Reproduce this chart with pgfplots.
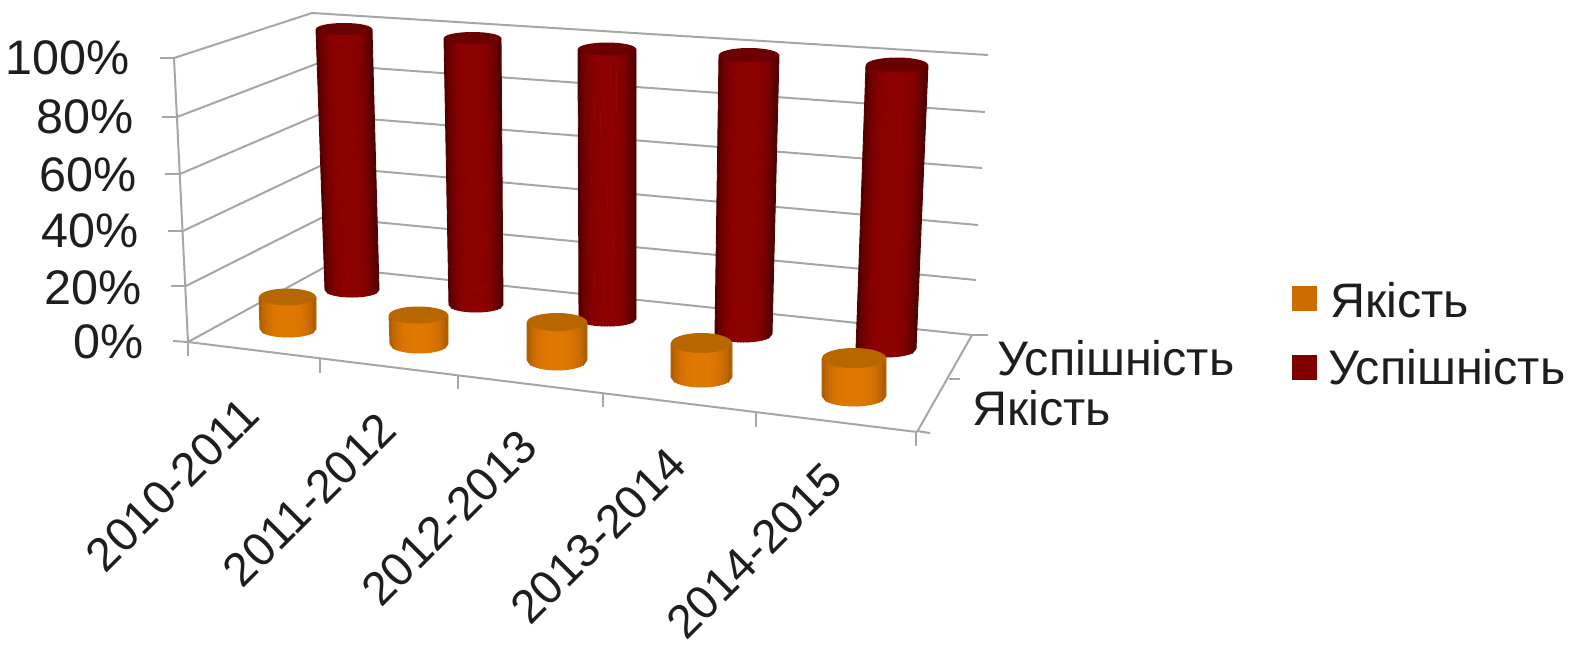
\documentclass[border=0pt]{standalone}
\usepackage{pgfplots}
\pgfplotsset{compat=1.18}
\usepackage{fontspec}
\setmainfont{Liberation Sans}
\definecolor{gridc}{HTML}{A6A6A6}
\definecolor{rE}{HTML}{4A0000}
\definecolor{rM}{HTML}{8E0000}
\definecolor{rC}{HTML}{6A0000}
\definecolor{oE}{HTML}{A85A00}
\definecolor{oM}{HTML}{E07800}
\definecolor{oC}{HTML}{B86600}
\definecolor{txt}{HTML}{1E1E1E}
\tikzset{lab/.style={text=txt,font=\fontsize{48.5}{50}\selectfont,inner sep=0pt},
 cat/.style={text=txt,font=\fontsize{47}{50}\selectfont,inner sep=0pt,rotate=45,anchor=east}}
\pgfdeclareplotmark{capr}{\fill[rC,draw=none] (0,0) circle (1pt);}
\pgfdeclareplotmark{capo}{\fill[oC,draw=none] (0,0) circle (1pt);}
% grid segment in the axis
\newcommand\seg[4]{\addplot[gridc,line width=2pt,forget plot,mark=none] coordinates {(#1,#2) (#3,#4)};}
% cylinder: xl xr ytop rytop | xl xr ybot rybot | r/o
\newcommand\cyl[9]{%
 \pgfplotsforeachungrouped \i in {0,...,17}{%
  \pgfmathsetmacro\ua{-1+\i/9}\pgfmathsetmacro\ub{-1+(\i+1)/9}%
  \pgfmathsetmacro\um{(\ua+\ub)/2}%
  \pgfmathsetmacro\p{int(100*(1-abs(\um)^3))}%
  \pgfmathsetmacro\xta{#1+(#2-#1)*(\ua+1)/2}\pgfmathsetmacro\xtb{#1+(#2-#1)*(\ub+1)/2}%
  \pgfmathsetmacro\xba{#5+(#6-#5)*(\ua+1)/2}\pgfmathsetmacro\xbb{#5+(#6-#5)*(\ub+1)/2}%
  \pgfmathsetmacro\yba{#7+#8*sqrt(max(0,1-\ua*\ua))}\pgfmathsetmacro\ybb{#7+#8*sqrt(max(0,1-\ub*\ub))}%
  \edef\tmp{\noexpand\addplot[forget plot,mark=none,line width=0.9pt,draw=#9M!\p!#9E,fill=#9M!\p!#9E] coordinates {(\xta,#3) (\xtb,#3) (\xbb,\ybb) (\xba,\yba) (\xta,#3)};}\tmp
 }%
 \pgfmathsetmacro\xct{(#1+#2)/2}\pgfmathsetmacro\rxt{(#2-#1)/2}%
 \edef\tmp{\noexpand\addplot[forget plot,only marks,mark=cap#9,mark options={xscale=\rxt,yscale=#4}] coordinates {(\xct,#3)};}\tmp
}
\begin{document}
\begin{tikzpicture}
\begin{axis}[
 width=1569pt,height=645pt,scale only axis,
 xmin=0,xmax=1569,ymin=0,ymax=645,y dir=reverse,
 xtick=\empty,ytick=\empty,axis line style={draw=none},clip=false,
]
% side wall
\seg{174}{58}{312}{13}
\seg{177}{117}{316}{64}
\seg{180}{174}{318}{115}
\seg{183}{231}{320}{166}
\seg{186}{286}{323}{217}
\seg{188}{342}{325}{267}
% back wall
\seg{312}{13}{988}{55}
\seg{316}{64}{985}{112}
\seg{318}{115}{982}{168}
\seg{320}{166}{978}{225}
\seg{323}{217}{976}{280}
\seg{325}{267}{972}{335}
% value axis and stubs
\seg{174}{58}{188}{342}
\seg{160}{58}{174}{58}
\seg{162}{117}{177}{117}
\seg{165}{174}{180}{174}
\seg{168}{231}{183}{231}
\seg{171}{286}{186}{286}
\seg{173}{341}{188}{342}
% floor
\seg{188}{342}{917}{432}
\seg{972}{335}{917}{432}
\seg{188}{342}{188}{356}
\seg{320}{358}{320}{373}
\seg{458}{375}{458}{389}
\seg{603}{393}{603}{407}
\seg{755.5}{413}{755.5}{427}
\seg{916}{432}{916}{446}
\seg{972}{335}{988}{335}
\seg{949}{379}{960}{379}
\seg{917}{431}{930}{433}
% Успішність (back row)
\cyl{316}{372}{29}{6}{325}{379}{290}{7}{r}
\cyl{444}{501}{38}{6}{449}{503}{305}{7}{r}
\cyl{578}{636}{49}{6.5}{579}{636}{319}{7}{r}
\cyl{719}{779}{55}{7}{715}{772}{334}{8}{r}
\cyl{866}{928}{65}{7.5}{856}{916}{349}{8}{r}
% Якість (front row)
\cyl{259}{316}{297}{8.5}{260}{316}{329}{8}{o}
\cyl{389}{448}{315}{8.5}{390}{448}{344}{9}{o}
\cyl{527}{587}{322}{9}{527}{587}{360}{10}{o}
\cyl{671}{732}{343}{10}{671}{732}{377}{10}{o}
\cyl{822}{886}{358}{10}{822}{886}{396}{10}{o}
% legend keys
\addplot[forget plot,only marks,mark=square*,mark size=12,mark options={draw=oM!90!black,fill=oM!90!black}] coordinates {(1304,298)};
\addplot[forget plot,only marks,mark=square*,mark size=12,mark options={draw=rM!90!black,fill=rM!90!black}] coordinates {(1304,367)};
% value labels
\node[lab,anchor=east] at (axis cs:130,58) {100\%};
\node[lab,anchor=east] at (axis cs:134,117) {80\%};
\node[lab,anchor=east] at (axis cs:137,175) {60\%};
\node[lab,anchor=east] at (axis cs:139,231) {40\%};
\node[lab,anchor=east] at (axis cs:142,288) {20\%};
\node[lab,anchor=east] at (axis cs:144,342) {0\%};
% category labels
\node[cat] at (axis cs:251,406) {2010-2011};
\node[cat] at (axis cs:388,421) {2011-2012};
\node[cat] at (axis cs:529,438) {2012-2013};
\node[cat] at (axis cs:678,456) {2013-2014};
\node[cat] at (axis cs:834,471) {2014-2015};
% depth labels
\node[lab,anchor=west] at (axis cs:997,358) {Успішність};
\node[lab,anchor=west] at (axis cs:972,408) {Якість};
% legend labels
\node[lab,anchor=west] at (axis cs:1330,300) {Якість};
\node[lab,anchor=west] at (axis cs:1328,367) {Успішність};
\end{axis}
\end{tikzpicture}
\end{document}
